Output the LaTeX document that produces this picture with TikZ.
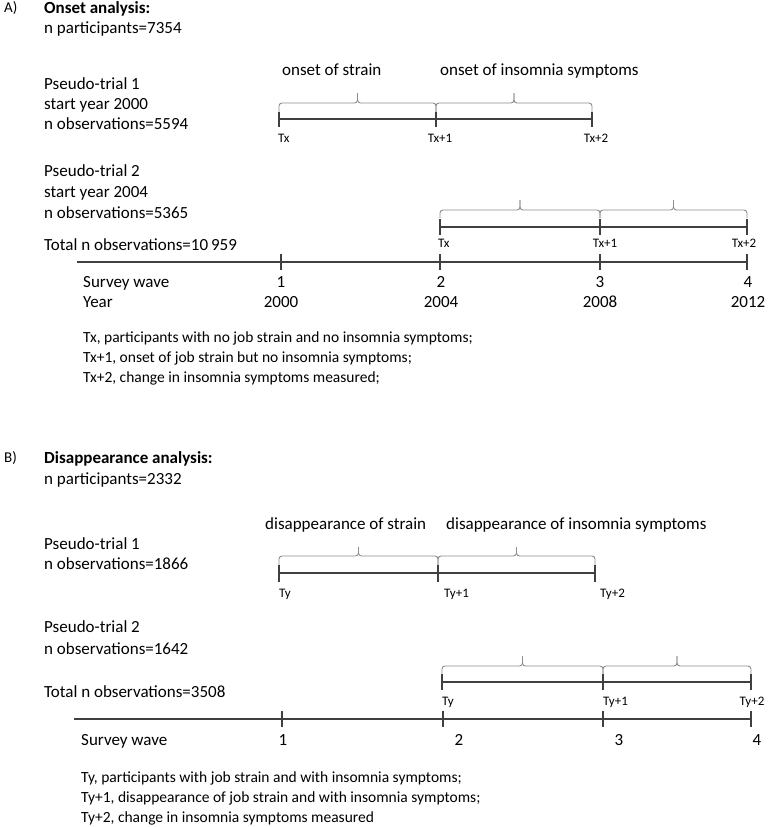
\documentclass[tikz,border=0pt]{standalone}
\usepackage{fontspec}
\setmainfont{Carlito}
\usetikzlibrary{positioning}
\tikzset{
    maintext/.style={
        anchor=west,
        inner sep=0pt,
        text height=0.7em,
        text depth=0.22em,
        font=\fontsize{17}{20}\selectfont
    },
    headtext/.style={maintext, font=\fontsize{17}{20}\selectfont\bfseries},
    parttext/.style={maintext, font=\fontsize{15}{18}\selectfont},
    ticklabel/.style={
        inner sep=0pt,
        text height=0.7em,
        text depth=0.22em,
        font=\fontsize{13}{15}\selectfont
    },
    wavelabel/.style={ticklabel, font=\fontsize{17}{20}\selectfont},
    notetext/.style={maintext, font=\fontsize{15.5}{18}\selectfont},
    timeline/.style={draw=black!75, line width=1.1pt},
    bracket/.style={draw=black!45, line width=0.9pt, rounded corners=3pt}
}

\begin{document}
\begin{tikzpicture}[x=1pt, y=-1pt]
\useasboundingbox (0,0) rectangle (770,827);

% ---------------- A) Onset analysis
\node[parttext] (labA) at (4,10) {A)};
\node[headtext] (headA) at (44,11) {Onset analysis:};
\node[maintext] (partA) at (44,31) {n participants=7354};

% Pseudo-trial 1
\node[maintext] (trialA1) at (44,87) {Pseudo-trial 1};
\node[maintext] (startA1) at (44,107) {start year 2000};
\node[maintext] (obsA1) at (44,127) {n observations=5594};
\node[maintext] (strainA) at (282,73) {onset of strain};
\node[maintext] (insomA) at (440,73) {onset of insomnia symptoms};

\foreach \xa/\xb in {279/436, 436/592} {
    \draw[bracket] (\xa,112) -- (\xa,103) -- ({(\xa+\xb)/2},103) -- ({(\xa+\xb)/2},93);
    \draw[bracket] (\xb,112) -- (\xb,103) -- ({(\xa+\xb)/2},103) -- ({(\xa+\xb)/2},93);
}
\coordinate (a1s) at (279,119);
\coordinate (a1e) at (592,119);
\draw[timeline] (a1s) -- (a1e);
\foreach \t in {279,436,592}
    \draw[timeline] (\t,112) -- (\t,127);
\node[ticklabel, anchor=west] (txA1) at (278,140) {Tx};
\node[ticklabel] (tx1A1) at (440,140) {Tx+1};
\node[ticklabel] (tx2A1) at (596,140) {Tx+2};

% Pseudo-trial 2
\node[maintext] (trialA2) at (44,174) {Pseudo-trial 2};
\node[maintext] (startA2) at (44,195) {start year 2004};
\node[maintext] (obsA2) at (44,216) {n observations=5365};
\node[maintext] (totalA) at (44,248) {Total n observations=10\,959};

\foreach \xa/\xb in {440/600, 600/747} {
    \draw[bracket] (\xa,218) -- (\xa,210) -- ({(\xa+\xb)/2},210) -- ({(\xa+\xb)/2},200);
    \draw[bracket] (\xb,218) -- (\xb,210) -- ({(\xa+\xb)/2},210) -- ({(\xa+\xb)/2},200);
}
\coordinate (a2s) at (440,227);
\coordinate (a2e) at (747,227);
\draw[timeline] (a2s) -- (a2e);
\foreach \t in {440,600,747}
    \draw[timeline] (\t,219) -- (\t,235);
\node[ticklabel, anchor=west] (txA2) at (438,245) {Tx};
\node[ticklabel] (tx1A2) at (605,245) {Tx+1};
\node[ticklabel] (tx2A2) at (744,245) {Tx+2};

% Survey axis
\coordinate (axAs) at (77,262);
\coordinate (axAe) at (747,262);
\draw[timeline] (axAs) -- (axAe);
\foreach \t in {281,440,600,747}
    \draw[timeline] (\t,254) -- (\t,270);
\node[maintext] (waveA) at (83,285) {Survey wave};
\node[maintext] (yearA) at (83,305) {Year};
\foreach \t/\w/\y [count=\i] in {281/1/2000, 441/2/2004, 600/3/2008, 748/4/2012} {
    \node[wavelabel] (wA\i) at (\t,285) {\w};
    \node[wavelabel] (yA\i) at (\t,305) {\y};
}

% Footnotes
\node[notetext] (noteA1) at (83,340) {Tx, participants with no job strain and no insomnia symptoms;};
\node[notetext] (noteA2) at (83,360) {Tx+1, onset of job strain but no insomnia symptoms;};
\node[notetext] (noteA3) at (83,380) {Tx+2, change in insomnia symptoms measured;};

% ---------------- B) Disappearance analysis
\node[parttext] (labB) at (4,460) {B)};
\node[headtext] (headB) at (44,461) {Disappearance analysis:};
\node[maintext] (partB) at (44,482) {n participants=2332};

% Pseudo-trial 1
\node[maintext] (strainB) at (265,527) {disappearance of strain};
\node[maintext] (insomB) at (446,527) {disappearance of insomnia symptoms};
\node[maintext] (trialB1) at (44,547) {Pseudo-trial 1};
\node[maintext] (obsB1) at (44,567) {n observations=1866};

\foreach \xa/\xb in {279/438, 438/595} {
    \draw[bracket] (\xa,565) -- (\xa,556) -- ({(\xa+\xb)/2},556) -- ({(\xa+\xb)/2},547);
    \draw[bracket] (\xb,565) -- (\xb,556) -- ({(\xa+\xb)/2},556) -- ({(\xa+\xb)/2},547);
}
\coordinate (b1s) at (279,573);
\coordinate (b1e) at (595,573);
\draw[timeline] (b1s) -- (b1e);
\foreach \t in {279,438,595}
    \draw[timeline] (\t,565) -- (\t,582);
\node[ticklabel, anchor=west] (tyB1) at (279,595) {Ty};
\node[ticklabel, anchor=west] (ty1B1) at (444,595) {Ty+1};
\node[ticklabel, anchor=west] (ty2B1) at (600,595) {Ty+2};

% Pseudo-trial 2
\node[maintext] (trialB2) at (44,630) {Pseudo-trial 2};
\node[maintext] (obsB2) at (44,652) {n observations=1642};
\node[maintext] (totalB) at (44,695) {Total n observations=3508};

\foreach \xa/\xb in {442/603, 603/751} {
    \draw[bracket] (\xa,674) -- (\xa,666) -- ({(\xa+\xb)/2},666) -- ({(\xa+\xb)/2},656);
    \draw[bracket] (\xb,674) -- (\xb,666) -- ({(\xa+\xb)/2},666) -- ({(\xa+\xb)/2},656);
}
\coordinate (b2s) at (442,682);
\coordinate (b2e) at (751,682);
\draw[timeline] (b2s) -- (b2e);
\foreach \t in {442,603,751}
    \draw[timeline] (\t,674) -- (\t,690);
\node[ticklabel, anchor=west] (tyB2) at (442,703) {Ty};
\node[ticklabel, anchor=west] (ty1B2) at (603,703) {Ty+1};
\node[ticklabel] (ty2B2) at (752,703) {Ty+2};

% Survey axis
\coordinate (axBs) at (74,719);
\coordinate (axBe) at (751,719);
\draw[timeline] (axBs) -- (axBe);
\foreach \t in {282,443,603,751}
    \draw[timeline] (\t,711) -- (\t,727);
\node[maintext] (waveB) at (81,743) {Survey wave};
\foreach \t/\w [count=\i] in {283/1, 459/2, 619/3, 757/4}
    \node[wavelabel] (wB\i) at (\t,743) {\w};

% Footnotes
\node[notetext] (noteB1) at (81,780) {Ty, participants with job strain and with insomnia symptoms;};
\node[notetext] (noteB2) at (81,800) {Ty+1, disappearance of job strain and with insomnia symptoms;};
\node[notetext] (noteB3) at (81,820) {Ty+2, change in insomnia symptoms measured};
\end{tikzpicture}
\end{document}
